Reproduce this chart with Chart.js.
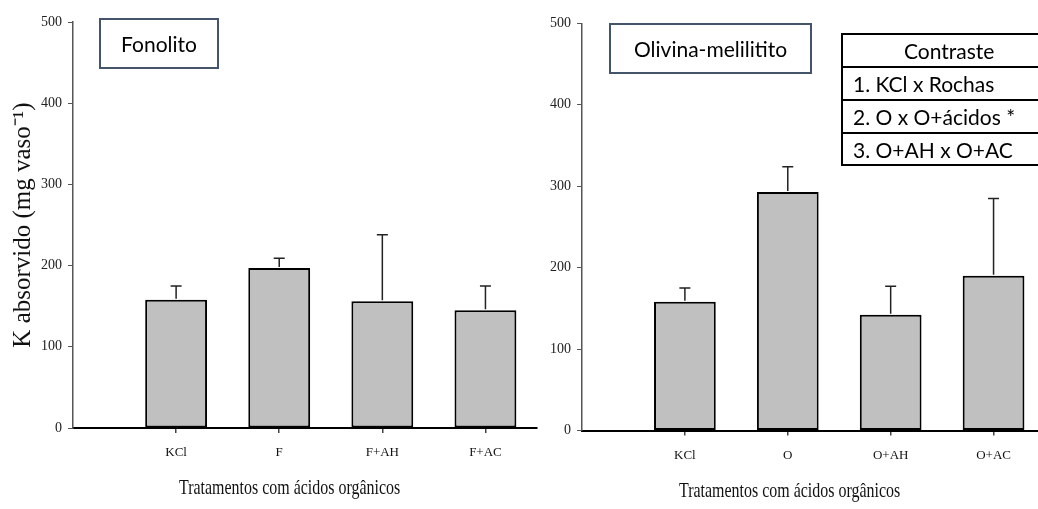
<!DOCTYPE html>
<html>
<head>
<meta charset="utf-8">
<script src="https://cdn.jsdelivr.net/npm/chart.js@4/dist/chart.umd.min.js"></script>
<style>
  html, body { margin:0; padding:0; background:#fff; width:1038px; height:509px; overflow:hidden; position:relative; }
  canvas { position:absolute; top:0; }
  .box { position:absolute; box-sizing:border-box; border:2px solid #44546a; font-family:Lato, "Open Sans", sans-serif; font-size:21px; color:#000; display:flex; align-items:center; justify-content:center; }
  .tbl { position:absolute; left:841px; top:33px; width:230px; box-sizing:border-box; border-left:2px solid #000; font-family:Lato, "Open Sans", sans-serif; font-size:21px; color:#000; }
  .row { height:33px; box-sizing:border-box; border-top:2px solid #000; line-height:31px; padding-left:10px; white-space:nowrap; }
  .row.last { border-bottom:2px solid #000; height:34px; }
  .row.head { padding-left:0; text-align:left; }
  .xt { position:absolute; font-family:"Liberation Serif", "Times New Roman", serif; font-size:21px; line-height:21px; white-space:nowrap; transform:scaleX(0.76); transform-origin:0 0; color:#111; }
</style>
</head>
<body>
<canvas id="c1" width="545" height="509" style="left:0px;width:545px;height:509px;"></canvas>
<canvas id="c2" width="505" height="509" style="left:540px;width:505px;height:509px;"></canvas>

<div class="box" style="left:99px;top:18px;width:120px;height:51px;">Fonolito</div>
<div class="box" style="left:609px;top:23px;width:203px;height:51px;">Olivina-melilitito</div>
<div class="tbl">
  <div class="row head"><span style="position:relative;left:61px;">Contraste</span></div>
  <div class="row">1. KCl x Rochas</div>
  <div class="row">2. O x O+ácidos *</div>
  <div class="row last">3. O+AH x O+AC</div>
</div>
<div class="xt" style="left:179px;top:477px;">Tratamentos com ácidos orgânicos</div>
<div class="xt" style="left:679px;top:480px;">Tratamentos com ácidos orgânicos</div>

<script>
// ---- data ----
const fonolitoLabels = ['KCl', 'F', 'F+AH', 'F+AC'];
const fonolitoMeans  = [158, 197, 156, 145];
const fonolitoSD     = [17, 12, 82, 30];

const olivinaLabels = ['KCl', 'O', 'O+AH', 'O+AC'];
const olivinaMeans  = [158, 293, 142, 190];
const olivinaSD     = [17, 31, 35, 95];

const yTicks = [0, 100, 200, 300, 400, 500];
const yTitle = 'K absorvido (mg vaso\u207B\u00B9)';

// ---- error bar plugin ----
const errorBars = {
  id: 'errorBars',
  afterDatasetsDraw(chart) {
    const ctx = chart.ctx;
    const yScale = chart.scales.y;
    const meta = chart.getDatasetMeta(0);
    const sd = chart.data.datasets[0].sd;
    const vals = chart.data.datasets[0].data;
    ctx.save();
    ctx.strokeStyle = '#222';
    ctx.lineWidth = 1.5;
    meta.data.forEach((bar, i) => {
      const top = yScale.getPixelForValue(vals[i].y + sd[i]);
      const x = bar.x;
      ctx.beginPath();
      ctx.moveTo(x, bar.y - 1);
      ctx.lineTo(x, top);
      ctx.moveTo(x - 5.5, top);
      ctx.lineTo(x + 5.5, top);
      ctx.stroke();
    });
    ctx.restore();
  }
};

function makeChart(id, labels, means, sd, o) {
  const data = means.map((v, i) => ({ x: i + 1, y: v }));
  return new Chart(document.getElementById(id), {
    type: 'bar',
    data: {
      datasets: [{
        data: data,
        sd: sd,
        backgroundColor: '#c0c0c0',
        borderColor: '#000',
        borderWidth: 2,
        borderSkipped: false,
        barPercentage: 0.6,
        categoryPercentage: 1
      }]
    },
    plugins: [errorBars],
    options: {
      responsive: false,
      animation: false,
      devicePixelRatio: 1,
      layout: { padding: { top: o.top, right: o.right, left: 0, bottom: 0 } },
      plugins: { legend: { display: false }, tooltip: { enabled: false } },
      scales: {
        x: {
          type: 'linear', min: 0, max: 4.5, offset: false,
          afterBuildTicks: s => { s.ticks = labels.map((l, i) => ({ value: i + 1 })); },
          afterFit: s => { s.height = o.xh; },
          grid: { offset: false, drawOnChartArea: false, drawTicks: true, tickLength: 5, color: '#444', lineWidth: 1.5 },
          border: { display: true, color: '#000', width: 2 },
          ticks: {
            callback: (v, i) => labels[i],
            font: { family: 'Liberation Serif', size: 13 },
            color: '#111', padding: 12, maxRotation: 0, autoSkip: false
          }
        },
        y: {
          min: 0, max: 500,
          afterBuildTicks: s => { s.ticks = yTicks.map(v => ({ value: v })); },
          afterFit: s => { s.width = o.yw; },
          grid: { drawOnChartArea: false, drawTicks: true, tickLength: 5, color: '#555', lineWidth: 1 },
          border: { display: true, color: '#555', width: 1.5 },
          ticks: { font: { family: 'Liberation Serif', size: 14 }, color: '#222', padding: 6 },
          title: {
            display: o.title,
            text: yTitle,
            font: { family: 'Liberation Serif', size: 25 },
            color: '#111',
            padding: { top: 8, bottom: 0 }
          }
        }
      }
    }
  });
}

makeChart('c1', fonolitoLabels, fonolitoMeans, fonolitoSD, { top: 22, right: 8, xh: 81, yw: 73, title: true });
makeChart('c2', olivinaLabels, olivinaMeans, olivinaSD, { top: 23.3, right: 0, xh: 78.5, yw: 42, title: false });
</script>
</body>
</html>
